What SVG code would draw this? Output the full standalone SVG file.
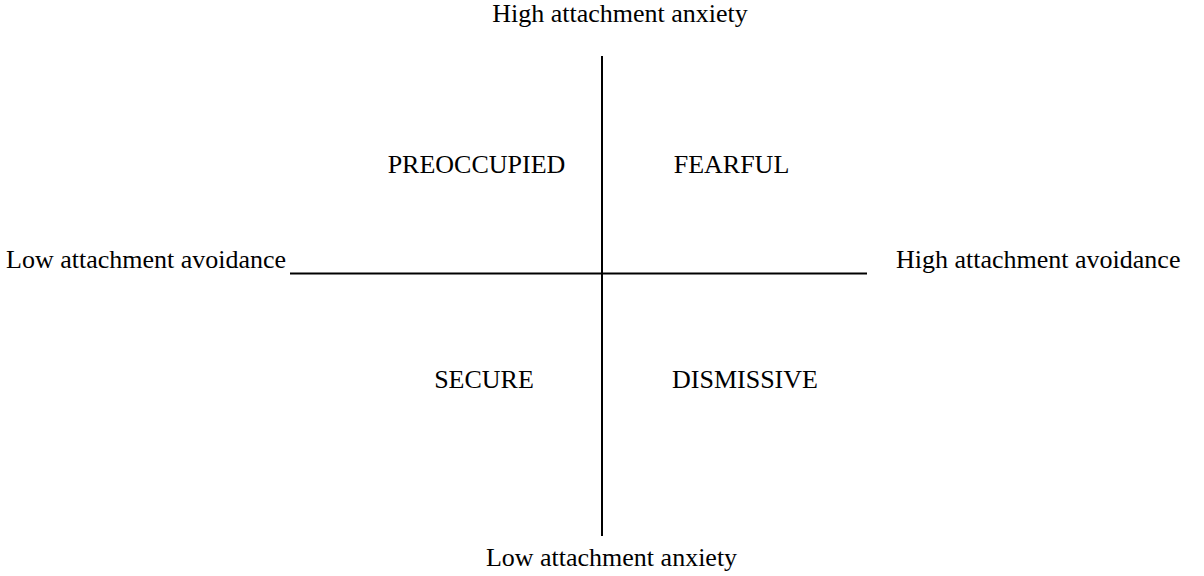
<svg xmlns="http://www.w3.org/2000/svg" width="1204" height="576" viewBox="0 0 1204 576">
  <style>
    .lbl { font-family: "Liberation Serif", "Times New Roman", serif; font-size: 26px; fill: #000; }
    .axis { stroke: #000; stroke-width: 2; fill: none; }
  </style>
  <rect width="1204" height="576" fill="#fff"/>
  <g id="connectors">
    <line class="axis" x1="602" y1="56" x2="602" y2="536"/>
    <line class="axis" x1="290" y1="273.5" x2="867" y2="273.5"/>
  </g>
  <g id="top-label"><text class="lbl" x="620" y="22" text-anchor="middle">High attachment anxiety</text></g>
  <g id="bottom-label"><text class="lbl" x="611.5" y="566" text-anchor="middle">Low attachment anxiety</text></g>
  <g id="left-label"><text class="lbl" x="6" y="268">Low attachment avoidance</text></g>
  <g id="right-label"><text class="lbl" x="896" y="268">High attachment avoidance</text></g>
  <g id="preoccupied"><text class="lbl" x="476.5" y="173" text-anchor="middle">PREOCCUPIED</text></g>
  <g id="fearful"><text class="lbl" x="731.5" y="173" text-anchor="middle">FEARFUL</text></g>
  <g id="secure"><text class="lbl" x="484" y="388" text-anchor="middle">SECURE</text></g>
  <g id="dismissive"><text class="lbl" x="745" y="388" text-anchor="middle">DISMISSIVE</text></g>
</svg>
